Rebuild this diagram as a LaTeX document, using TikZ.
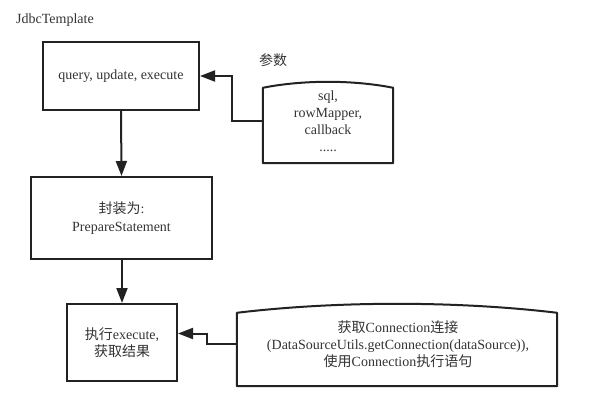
\documentclass[tikz,border=0pt]{standalone}
\usepackage{fontspec}
\setmainfont{Liberation Serif}
\newfontfamily\cjk{Noto Sans CJK SC}
\usetikzlibrary{arrows.meta,calc}
\definecolor{ln}{HTML}{222222}
\definecolor{tx}{HTML}{333333}
\begin{document}
\begin{tikzpicture}[x=1pt,y=-1pt,
  box/.style={draw=ln,line width=2pt,align=center,text=tx,font=\fontsize{14}{17.5}\selectfont,inner sep=0pt},
  shp/.style={align=center,text=tx,font=\fontsize{14}{17}\selectfont,inner sep=0pt},
  arr/.style={draw=ln,line width=2pt,-{Triangle[length=15pt,width=11pt]}},
  lbl/.style={text=tx,font=\fontsize{14}{15}\selectfont,inner sep=0pt}]
\useasboundingbox (0,0) rectangle (591,414);
\node[lbl] (title) at (55,20) {JdbcTemplate};
\node[lbl] (plabel) at (273,60) {\cjk 参数};
\node[box,minimum width=156pt,minimum height=68pt] (q) at (121,76) {query, update, execute};
\node[box,minimum width=181pt,minimum height=82pt] (prep) at (121.5,218) {{\cjk 封装为}:\\PrepareStatement};
\node[box,minimum width=110pt,minimum height=77pt] (exec) at (122,342.5) {{\cjk 执行}execute,\\{\cjk 获取结果}};
% parameters shape
\node[shp,minimum width=130pt,minimum height=75pt] (params) at (328,125.5) {};
\draw[ln,line width=2pt,line join=round] (params.south west) -- (params.north west)
  .. controls ($(params.north west)+(40,-8)$) and ($(params.north east)+(-40,-8)$) .. (params.north east)
  -- (params.south east) -- cycle;
\node[shp,align=center] (ptext) at (328,121) {sql,\\rowMapper,\\callback\\.....};
% connection shape
\node[shp,minimum width=320pt,minimum height=73pt] (conn) at (397,349.5) {};
\draw[ln,line width=2pt,line join=round] (conn.south west) -- (conn.north west)
  .. controls ($(conn.north west)+(100,-12)$) and ($(conn.north east)+(-100,-12)$) .. (conn.north east)
  -- (conn.south east) -- cycle;
\node[shp,align=center] (ctext) at (398,344.5) {{\cjk 获取}Connection{\cjk 连接}\\(DataSourceUtils.getConnection(dataSource)),\\{\cjk 使用}Connection{\cjk 执行语句}};
% connectors
\draw[arr] ([yshift=4.5pt]params.west) -- ++(-31,0) |- (q.east);
\draw[arr] (q.south) -- (prep.north);
\draw[arr] (prep.south -| exec.north) -- (exec.north);
\draw[arr] ([yshift=5.5pt]conn.west) -- ++(-30,0) |- ([yshift=9pt]exec.east);
\end{tikzpicture}
\end{document}
